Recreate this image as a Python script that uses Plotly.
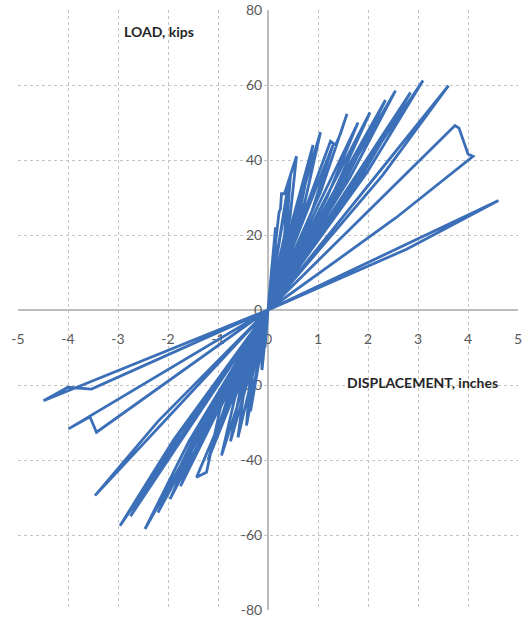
import plotly.graph_objects as go

# Load-displacement hysteresis path (displacement in inches, load in kips)
displacement = [
    0, 0.08, 0.08, 0, -0.06, -0.07, 0,
    0.15, 0.15, 0, -0.12, -0.13, 0,
    0.22, 0.25, 0.27, 0.33, 0.57, 0.44, 0, -0.43, -0.36, 0,
    0.45, 0.37, 0, -0.35, -0.31, 0,
    0.40, 0.33, 0, -0.60, -0.47, 0,
    1.05, 0.73, 0, -0.93, -0.66, 0,
    0.90, 0.64, 0, -0.75, -0.55, 0,
    1.25, 1.35, 1.45, 1.58, 1.05, 0, -1.43, -1.23, -0.95, 0,
    1.30, 0.88, 0, -1.20, -0.82, 0,
    2.04, 1.32, 0, -1.96, -1.28, 0,
    1.80, 1.18, 0, -1.75, -1.15, 0,
    2.55, 1.63, 0, -2.46, -1.58, 0,
    2.35, 1.51, 0, -2.20, -1.42, 0,
    3.10, 1.98, 0, -2.96, -1.88, 0,
    2.85, 1.83, 0, -2.75, -1.77, 0,
    3.61, 2.29, 0, -3.46, -2.20, 0,
    3.74, 3.82, 4.00, 4.10, 2.56, 0, -3.99, -3.56, -3.43, 0,
    4.61, 2.77, 0, -4.49, -4.00, -3.53, 0,
]
load = [
    0, 12, 7, 0, -10, -6, 0,
    22, 13, 0, -16, -9, 0,
    26, 27, 31, 31, 41, 24.6, 0, -30.8, -18.5, 0,
    36, 21.6, 0, -27, -16.2, 0,
    33, 19.8, 0, -34, -20.4, 0,
    47.4, 28.4, 0, -38.8, -23.3, 0,
    44, 26.4, 0, -35, -21, 0,
    45, 44, 47, 52.3, 31.4, 0, -44.6, -43.3, -26, 0,
    44, 26.4, 0, -40, -24, 0,
    52.7, 31.6, 0, -50.4, -30.2, 0,
    50, 30, 0, -47, -28.2, 0,
    58.5, 35.1, 0, -58.4, -35, 0,
    56, 33.6, 0, -54, -32.4, 0,
    61.2, 36.7, 0, -57.5, -34.5, 0,
    58, 34.8, 0, -55, -33, 0,
    59.8, 35.9, 0, -49.5, -29.7, 0,
    49.2, 48.5, 41.6, 41, 24.6, 0, -31.7, -28.5, -32.6, 0,
    29.2, 16.2, 0, -24.2, -20.6, -21.1, 0,
]

x_ticks = [-5, -4, -3, -2, -1, 0, 1, 2, 3, 4, 5]
y_ticks = [-80, -60, -40, -20, 0, 20, 40, 60, 80]

x_title = "DISPLACEMENT, inches"
y_title = "LOAD, kips"

fig = go.Figure()
fig.add_trace(go.Scatter(
    x=displacement, y=load, mode="lines",
    line=dict(color="#3b70b8", width=2.8),
    showlegend=False, hoverinfo="skip",
))

axis_common = dict(
    showgrid=True, gridcolor="#c4c4c4", gridwidth=1, griddash="3px,3px",
    zeroline=False, showline=True, linecolor="#bdbdbd", linewidth=2,
    anchor="free", position=0.5, ticks="", automargin=False,
    tickfont=dict(family="Lato, Noto Sans, sans-serif", size=14, color="#595959"),
    layer="below traces",
)

fig.update_xaxes(range=[-5, 5], tickvals=x_ticks, ticktext=[str(v) for v in x_ticks],
                 ticklabelstandoff=16, **axis_common)
fig.update_yaxes(range=[-80, 80], tickvals=y_ticks, ticktext=[str(v) for v in y_ticks],
                 ticklabelstandoff=2, **axis_common)

fig.add_annotation(x=-2.18, y=74.2, text="<b>" + y_title + "</b>", showarrow=False,
                   font=dict(family="Lato, Noto Sans, sans-serif", size=14, color="#262626"))
fig.add_annotation(x=3.08, y=-19.3, text="<b>" + x_title + "</b>", showarrow=False,
                   font=dict(family="Lato, Noto Sans, sans-serif", size=14, color="#262626"))

fig.update_layout(
    width=527, height=619,
    margin=dict(l=18, r=9, t=10, b=9),
    paper_bgcolor="white", plot_bgcolor="white",
)

fig.write_html("out.html", config={"displayModeBar": False},
               post_script="document.body.style.margin='0';")
